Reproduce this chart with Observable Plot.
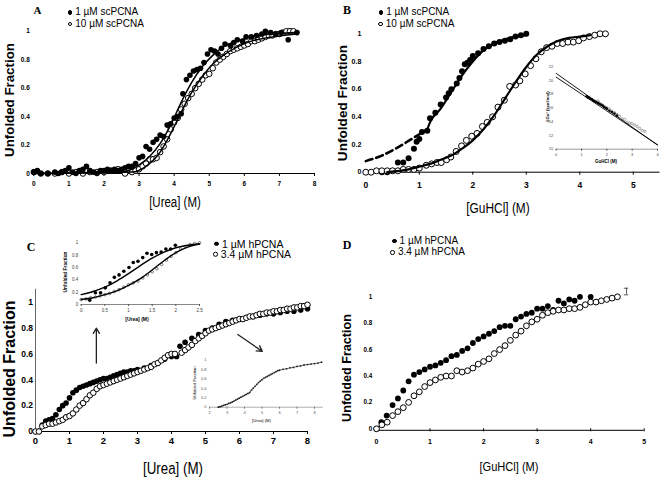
<!DOCTYPE html>
<html><head><meta charset="utf-8">
<script src="https://cdn.jsdelivr.net/npm/d3@7"></script>
<script src="https://cdn.jsdelivr.net/npm/@observablehq/plot@0.6"></script>
<style>
body{margin:0;background:#fff;}
#root{position:relative;width:662px;height:478px;overflow:hidden;background:#fff;font-family:'Liberation Sans',Arial,sans-serif;color:#000;}
.t{position:absolute;white-space:nowrap;line-height:1;}
.lg{position:absolute;white-space:nowrap;line-height:1;display:flex;align-items:center;transform:translateY(-50%);}
.mk{display:inline-block;border-radius:50%;box-sizing:border-box;}
svg{overflow:visible}
</style></head><body><div id="root"></div><script>
// ---------- Panel A : urea, scPCNA ----------
const xTicksA = [0,1,2,3,4,5,6,7,8];
const yTicksFrac = [0,0.2,0.4,0.6,0.8,1];
const a1uM = [[0.0,0.01],[0.1,0.02],[0.2,0.0],[0.4,0.0],[0.6,0.01],[0.7,0.0],[0.8,0.01],[0.9,0.02],[1.0,0.04],[1.1,0.01],[1.2,0.0],[1.3,0.02],[1.4,0.03],[1.5,0.05],[1.6,0.02],[1.7,0.01],[1.8,0.0],[1.9,0.02],[2.0,0.02],[2.1,0.03],[2.2,0.02],[2.3,0.03],[2.4,0.02],[2.5,0.03],[2.6,0.04],[2.7,0.05],[2.8,0.05],[2.9,0.07],[3.0,0.11],[3.1,0.12],[3.2,0.19],[3.3,0.17],[3.4,0.22],[3.5,0.24],[3.6,0.27],[3.7,0.26],[3.8,0.34],[3.9,0.35],[4.0,0.39],[4.1,0.4],[4.2,0.42],[4.25,0.56],[4.35,0.66],[4.45,0.69],[4.55,0.72],[4.65,0.73],[4.75,0.74],[4.85,0.78],[4.95,0.84],[5.05,0.87],[5.15,0.86],[5.25,0.84],[5.35,0.88],[5.45,0.91],[5.6,0.9],[5.7,0.92],[5.8,0.94],[5.95,0.93],[6.05,0.96],[6.2,0.96],[6.35,0.97],[6.5,0.98],[6.6,1.0],[6.75,0.99],[6.9,0.98],[7.05,0.99],[7.25,0.94],[7.5,0.99]];
const a10uM = [[0.0,0.01],[0.2,0.0],[0.4,0.0],[0.6,0.0],[0.8,0.01],[1.0,0.0],[1.2,0.01],[1.4,0.0],[1.6,0.01],[1.8,0.01],[2.0,0.01],[2.2,0.02],[2.4,0.03],[2.6,0.0],[2.8,0.01],[2.9,0.02],[3.0,0.03],[3.1,0.05],[3.2,0.07],[3.3,0.1],[3.4,0.1],[3.5,0.11],[3.6,0.15],[3.7,0.19],[3.8,0.24],[3.9,0.31],[4.0,0.36],[4.1,0.39],[4.2,0.45],[4.3,0.49],[4.4,0.53],[4.5,0.56],[4.6,0.6],[4.7,0.63],[4.8,0.66],[4.9,0.69],[5.0,0.7],[5.1,0.74],[5.2,0.78],[5.3,0.8],[5.4,0.82],[5.5,0.84],[5.6,0.86],[5.7,0.87],[5.8,0.88],[5.9,0.89],[6.0,0.9],[6.1,0.91],[6.2,0.93],[6.3,0.93],[6.4,0.94],[6.5,0.95],[6.6,0.96],[6.7,0.97],[6.8,0.97],[6.9,0.98],[7.0,0.98],[7.1,0.99],[7.2,1.0],[7.3,1.0],[7.4,1.0]];
const fitA1 = [[0,0],[2.5,0.01],[3.0,0.06],[3.3,0.12],[3.6,0.21],[3.9,0.34],[4.2,0.5],[4.5,0.64],[4.8,0.75],[5.1,0.83],[5.4,0.89],[5.8,0.93],[6.2,0.96],[6.8,0.98],[7.5,0.99]];
const fitA2 = [[0,0],[2.8,0.01],[3.2,0.05],[3.6,0.15],[3.9,0.28],[4.2,0.43],[4.5,0.57],[4.8,0.68],[5.1,0.77],[5.4,0.83],[5.8,0.89],[6.2,0.93],[6.8,0.96],[7.5,0.98]];

// ---------- Panel B : GuHCl, scPCNA ----------
const xTicksB = [0,1,2,3,4,5];
const b1uM = [[0.3,0.0],[0.4,0.0],[0.5,0.01],[0.6,0.07],[0.7,0.07],[0.8,0.1],[0.9,0.17],[0.95,0.22],[1.0,0.24],[1.05,0.29],[1.15,0.3],[1.2,0.39],[1.3,0.43],[1.4,0.49],[1.5,0.54],[1.55,0.57],[1.6,0.6],[1.7,0.64],[1.75,0.68],[1.8,0.73],[1.85,0.78],[1.9,0.79],[1.95,0.81],[2.0,0.84],[2.1,0.86],[2.2,0.89],[2.3,0.91],[2.4,0.93],[2.5,0.94],[2.6,0.95],[2.7,0.96],[2.8,0.98],[2.9,0.99],[3.0,1.0]];
const b10uM = [[0,0],[0.1,0],[0.2,0.01],[0.3,0.01],[0.4,0.01],[0.5,0.01],[0.6,0.01],[0.7,0.02],[0.8,0.02],[0.9,0.02],[1.0,0.03],[1.13,0.05],[1.23,0.06],[1.33,0.07],[1.41,0.07],[1.51,0.09],[1.59,0.11],[1.69,0.15],[1.79,0.19],[1.88,0.23],[1.98,0.26],[2.08,0.28],[2.18,0.33],[2.27,0.36],[2.37,0.4],[2.47,0.47],[2.59,0.52],[2.69,0.62],[2.8,0.63],[2.88,0.66],[2.98,0.71],[3.08,0.77],[3.18,0.82],[3.28,0.87],[3.38,0.9],[3.48,0.91],[3.58,0.93],[3.68,0.93],[3.78,0.94],[3.88,0.94],[3.98,0.95],[4.07,0.97],[4.18,0.98],[4.28,0.99],[4.38,1.0],[4.48,1.0]];
const dashB = [[0,0.08],[0.3,0.12],[0.6,0.18],[0.9,0.25],[1.15,0.31]];
const fitB1 = [[1.15,0.31],[1.2,0.36],[1.4,0.46],[1.6,0.58],[1.8,0.7],[2.0,0.8],[2.2,0.88],[2.4,0.93],[2.6,0.96],[2.8,0.98],[3.0,0.99]];
const fitB2 = [[0.4,0.0],[0.8,0.02],[1.0,0.04],[1.2,0.06],[1.4,0.09],[1.6,0.12],[1.8,0.17],[2.0,0.23],[2.2,0.31],[2.4,0.41],[2.6,0.53],[2.8,0.65],[3.0,0.76],[3.2,0.85],[3.4,0.91],[3.6,0.95],[3.8,0.97],[4.0,0.98],[4.2,0.99]];
// inset of B: ΔGu° vs GuHCl
const xTicksBi = [0,1,2,3,4];
const yTicksBi = [10,12,14,16,18,20,22];
const insetBFilled = [[1.2,17.7],[1.25,17.5],[1.3,17.5],[1.35,17.3],[1.4,17.3],[1.45,17.1],[1.5,17.0],[1.55,16.9],[1.6,16.8],[1.65,16.7],[1.7,16.6],[1.75,16.5],[1.8,16.4],[1.85,16.3],[1.9,16.1],[1.95,16.0],[2.0,15.9],[2.1,15.6],[2.2,15.4],[2.3,15.2],[2.4,14.9]];
const insetBOpen = [[1.5,17.0],[1.6,16.9],[1.65,17.0],[1.7,16.7],[1.8,16.5],[1.9,16.2],[2.0,16.0],[2.1,15.8],[2.2,15.5],[2.3,15.3],[2.4,15.0],[2.5,14.8],[2.6,14.4],[2.7,14.3],[2.8,13.9],[2.9,13.8],[3.0,13.7],[3.1,13.5],[3.2,13.3],[3.3,13.0],[3.4,12.7],[3.5,12.6]];
const insetBLine1 = [[0,21.0],[4,10.6]];
const insetBLine2 = [[0,20.45],[4,10.65]];

// ---------- Panel C : urea, hPCNA ----------
const yTicksC = [0,0.2,0.4,0.6,0.8,1];
const c1uM = [[0,0],[0.1,0],[0.2,0.05],[0.3,0.08],[0.4,0.09],[0.5,0.1],[0.6,0.13],[0.7,0.17],[0.8,0.2],[0.9,0.22],[1.0,0.26],[1.1,0.3],[1.2,0.32],[1.3,0.34],[1.4,0.35],[1.5,0.36],[1.6,0.37],[1.7,0.38],[1.8,0.39],[1.9,0.4],[2.0,0.41],[2.1,0.41],[2.2,0.42],[2.3,0.43],[2.4,0.44],[2.5,0.45],[2.6,0.46],[2.7,0.46],[2.8,0.47],[2.9,0.47],[3.0,0.48],[3.2,0.49],[3.4,0.51],[3.6,0.53],[3.8,0.56],[4.0,0.58],[4.15,0.58],[4.25,0.66],[4.4,0.69],[4.6,0.72],[4.8,0.75],[5.0,0.78],[5.2,0.8],[5.4,0.83],[5.6,0.85],[5.8,0.86],[6.0,0.87],[6.2,0.88],[6.4,0.89],[6.6,0.9],[6.8,0.91],[7.0,0.91],[7.2,0.92],[7.4,0.93],[7.6,0.93],[7.8,0.94],[8.0,0.95]];
const c34uM = [[0,0],[0.1,0],[0.2,0.04],[0.3,0.05],[0.4,0.06],[0.5,0.06],[0.6,0.07],[0.7,0.08],[0.8,0.09],[0.9,0.11],[1.0,0.12],[1.1,0.14],[1.2,0.17],[1.3,0.2],[1.4,0.22],[1.5,0.25],[1.6,0.28],[1.7,0.3],[1.8,0.33],[1.9,0.35],[2.0,0.36],[2.1,0.37],[2.2,0.38],[2.3,0.39],[2.4,0.4],[2.5,0.41],[2.6,0.42],[2.7,0.43],[2.8,0.44],[2.9,0.45],[3.0,0.46],[3.1,0.47],[3.2,0.48],[3.3,0.49],[3.4,0.5],[3.5,0.52],[3.6,0.53],[3.7,0.55],[3.8,0.57],[3.9,0.59],[4.0,0.6],[4.1,0.6],[4.3,0.61],[4.4,0.63],[4.5,0.65],[4.6,0.67],[4.7,0.7],[4.8,0.72],[4.9,0.74],[5.0,0.76],[5.1,0.78],[5.2,0.79],[5.3,0.8],[5.4,0.81],[5.5,0.82],[5.6,0.83],[5.7,0.84],[5.8,0.85],[5.9,0.86],[6.0,0.87],[6.1,0.87],[6.2,0.88],[6.3,0.89],[6.4,0.89],[6.5,0.9],[6.6,0.91],[6.7,0.91],[6.8,0.92],[6.9,0.92],[7.0,0.93],[7.1,0.93],[7.2,0.94],[7.3,0.94],[7.4,0.95],[7.5,0.95],[7.6,0.96],[7.7,0.96],[7.8,0.97],[7.9,0.97],[8.0,0.98]];
const arrowsC = [{x1:1.79,y1:0.53,x2:1.79,y2:0.8},{x1:5.95,y1:0.75,x2:6.67,y2:0.62}];
// upper inset of C (0–2.5 M urea)
const xTicksCi1 = [0,0.5,1,1.5,2,2.5];
const insC1Filled = [[0.18,0.07],[0.3,0.19],[0.41,0.19],[0.51,0.27],[0.61,0.35],[0.7,0.44],[0.8,0.48],[0.9,0.54],[1.01,0.6],[1.1,0.68],[1.2,0.7],[1.3,0.76],[1.39,0.83],[1.49,0.81],[1.59,0.84],[1.69,0.85],[1.79,0.9],[1.89,0.9],[1.99,0.96]];
const insC1Open = [[0,0.08],[0.1,0.09],[0.2,0.11],[0.3,0.12],[0.4,0.14],[0.5,0.16],[0.6,0.18],[0.7,0.21],[0.8,0.24],[0.9,0.28],[1.0,0.32],[1.1,0.35],[1.2,0.38],[1.3,0.43],[1.4,0.48],[1.5,0.53],[1.6,0.58],[1.7,0.65],[1.8,0.72],[1.9,0.78],[2.0,0.84],[2.1,0.9],[2.2,0.94],[2.3,0.97],[2.4,0.99],[2.5,1.0]];
const insC1FitFilled = [[0,0.16],[0.25,0.21],[0.5,0.28],[0.75,0.38],[1.0,0.5],[1.25,0.63],[1.5,0.75],[1.75,0.85],[2.0,0.92],[2.25,0.96],[2.5,0.98]];
const insC1FitOpen = [[0,0.08],[0.25,0.11],[0.5,0.16],[0.75,0.22],[1.0,0.31],[1.25,0.42],[1.5,0.56],[1.75,0.71],[2.0,0.84],[2.25,0.93],[2.5,0.98]];
// lower inset of C (2–8.5 M urea)
const xTicksCi2 = [2,3,4,5,6,7,8];
const insC2 = [[2.5,0],[2.6,0.01],[2.7,0.02],[2.8,0.04],[2.9,0.05],[3.0,0.06],[3.1,0.08],[3.2,0.09],[3.3,0.11],[3.4,0.13],[3.5,0.15],[3.6,0.17],[3.7,0.19],[3.8,0.21],[3.9,0.23],[4.0,0.25],[4.1,0.27],[4.2,0.29],[4.3,0.31],[4.4,0.36],[4.5,0.4],[4.6,0.44],[4.7,0.48],[4.8,0.52],[4.9,0.55],[5.0,0.58],[5.1,0.61],[5.2,0.63],[5.3,0.65],[5.4,0.67],[5.5,0.69],[5.6,0.71],[5.7,0.73],[5.8,0.75],[5.9,0.77],[6.0,0.78],[6.2,0.8],[6.4,0.81],[6.6,0.83],[6.8,0.84],[7.0,0.86],[7.2,0.87],[7.4,0.89],[7.6,0.9],[7.8,0.91],[8.0,0.92],[8.2,0.93],[8.4,0.95]];

// ---------- Panel D : GuHCl, hPCNA ----------
const xTicksD = [0,1,2,3,4,5];
const d1uM = [[0,0],[0.09,0.05],[0.19,0.1],[0.3,0.18],[0.4,0.23],[0.5,0.29],[0.6,0.36],[0.7,0.41],[0.8,0.43],[0.9,0.45],[1.0,0.47],[1.1,0.48],[1.2,0.5],[1.3,0.52],[1.4,0.55],[1.5,0.56],[1.6,0.59],[1.7,0.61],[1.8,0.65],[1.9,0.68],[2.0,0.7],[2.1,0.72],[2.2,0.74],[2.3,0.77],[2.4,0.78],[2.5,0.78],[2.6,0.83],[2.7,0.85],[2.8,0.87],[2.9,0.88],[3.0,0.91],[3.1,0.91],[3.2,0.93],[3.3,0.9],[3.4,0.97],[3.5,0.95],[3.6,0.98],[3.7,0.97],[3.8,1.0],[4.0,1.0]];
const d34uM = [[0,0],[0.1,0.03],[0.2,0.05],[0.3,0.1],[0.4,0.13],[0.5,0.16],[0.6,0.2],[0.7,0.25],[0.8,0.28],[0.9,0.32],[1.0,0.35],[1.1,0.37],[1.2,0.39],[1.3,0.4],[1.4,0.4],[1.5,0.44],[1.6,0.43],[1.7,0.44],[1.8,0.46],[1.9,0.49],[2.0,0.51],[2.1,0.53],[2.2,0.57],[2.3,0.6],[2.4,0.63],[2.5,0.67],[2.6,0.71],[2.7,0.74],[2.8,0.78],[2.9,0.81],[3.0,0.83],[3.1,0.86],[3.2,0.88],[3.3,0.89],[3.4,0.9],[3.5,0.9],[3.6,0.91],[3.7,0.91],[3.8,0.92],[3.9,0.94],[4.0,0.96],[4.1,0.96],[4.2,0.97],[4.3,0.98],[4.4,0.99],[4.5,1.0]];
const errD = {x:4.67, lo:1.015, hi:1.065, cap:0.04};

// ---------- helpers ----------
const root = document.getElementById("root");
const SANS = "'Liberation Sans',Arial,sans-serif";
const SERIF = "'Liberation Serif','Times New Roman',serif";
const fmt = d => String(d);

function place(o) {
  const svg = Plot.plot({
    width: o.w, height: o.h,
    marginLeft: o.ml, marginRight: o.mr, marginTop: o.mt, marginBottom: o.mb,
    x: {domain: o.xd, label: null},
    y: {domain: o.yd, label: null},
    style: {fontFamily: SANS, background: "transparent", overflow: "visible", color: "black"},
    marks: o.marks
  });
  svg.style.position = "absolute";
  svg.style.left = o.left + "px";
  svg.style.top = o.top + "px";
  root.appendChild(svg);
}
function txt(s, x, y, o = {}) {
  const d = document.createElement("div");
  d.className = "t";
  d.textContent = s;
  d.style.left = x + "px"; d.style.top = y + "px";
  d.style.fontSize = (o.size || 10) + "px";
  d.style.fontWeight = o.weight || "normal";
  d.style.fontFamily = o.family || SANS;
  d.style.transform = "translate(-50%,-50%)" + (o.rot ? " rotate(-90deg)" : "") + (o.narrow ? " scaleX(0.82)" : "");
  root.appendChild(d);
}
function legend(x, y, label, filled, size, ms) {
  const d = document.createElement("div");
  d.className = "lg";
  d.style.left = (x - ms / 2) + "px"; d.style.top = y + "px";
  d.style.fontSize = size + "px"; d.style.fontFamily = SANS;
  const m = document.createElement("span");
  m.className = "mk";
  m.style.width = ms + "px"; m.style.height = ms + "px";
  m.style.background = filled ? "#000" : "#fff";
  m.style.border = "1px solid #000";
  m.style.marginRight = "3px";
  d.appendChild(m);
  d.appendChild(document.createTextNode(label));
  root.appendChild(d);
}
const axX = (t, fs, pad, ts = 3) => Plot.axisX(t, {tickSize: ts, tickPadding: pad, fontSize: fs, fontWeight: "bold", tickFormat: fmt});
const axY = (t, fs, pad) => Plot.axisY(t, {tickSize: 0, tickPadding: pad, fontSize: fs, fontWeight: "bold", tickFormat: fmt});

// ---------- Panel A ----------
place({left: 0, top: 0, w: 331, h: 215, ml: 33.3, mr: 17, mt: 30.7, mb: 42, xd: [0, 8], yd: [0, 1],
  marks: [
    Plot.ruleY([0], {strokeWidth: 1}),
    axX(xTicksA, 6.5, 4.5), axY(yTicksFrac, 6.5, 4),
    Plot.dot(a10uM, {r: 2.8, fill: "white", stroke: "black", strokeWidth: 1}),
    Plot.dot(a1uM, {r: 2.8, fill: "black"}),
    Plot.line(fitA1, {strokeWidth: 1.5, curve: "monotone-x"}),
    Plot.line(fitA2, {strokeWidth: 1.5, curve: "monotone-x"})
  ]});
txt("A", 37.5, 9.5, {size: 11, weight: "bold", family: SERIF});
legend(70, 12.3, "1 µM scPCNA", true, 10, 4.5);
legend(70, 24, "10 µM scPCNA", false, 10, 4.5);
txt("Unfolded Fraction", 9.5, 100, {size: 13.3, weight: "bold", rot: true});
txt("[Urea] (M)", 175, 202, {size: 14, narrow: true});

// ---------- Panel B ----------
place({left: 331, top: 0, w: 331, h: 215, ml: 34.3, mr: 2.5, mt: 33.3, mb: 43.3, xd: [0, 5.5], yd: [0, 1],
  marks: [
    Plot.ruleY([0], {strokeWidth: 1}),
    axX(xTicksB, 8.5, 6.5), axY(yTicksFrac, 7, 4.5),
    Plot.dot(b1uM, {r: 3, fill: "black"}),
    Plot.dot(b10uM, {r: 3, fill: "white", stroke: "black", strokeWidth: 1}),
    Plot.line(dashB, {strokeWidth: 2.6, strokeDasharray: "7,4", curve: "monotone-x"}),
    Plot.line(fitB1, {strokeWidth: 2.2, curve: "monotone-x"}),
    Plot.line(fitB2, {strokeWidth: 2.2, curve: "monotone-x"})
  ]});
txt("B", 347, 9.5, {size: 12, weight: "bold", family: SERIF});
legend(381, 12.3, "1 µM scPCNA", true, 10, 4.5);
legend(380.5, 24, "10 µM scPCNA", false, 10, 4.5);
txt("Unfolded Fraction", 343, 103, {size: 13.6, weight: "bold", rot: true});
txt("[GuHCl] (M)", 498, 208, {size: 14.5, narrow: true});
// inset of B
place({left: 540, top: 55, w: 122, h: 110, ml: 15.7, mr: 5, mt: 11, mb: 16.3, xd: [0, 4], yd: [10, 22],
  marks: [
    Plot.ruleY([10], {strokeWidth: 0.6, stroke: "#555"}),
    Plot.axisX(xTicksBi, {tickSize: 2, tickPadding: 2, fontSize: 4, tickFormat: fmt, stroke: "#555", fill: "#444"}),
    Plot.axisY(yTicksBi, {tickSize: 0, tickPadding: 3, fontSize: 4, tickFormat: fmt, fill: "#444"}),
    Plot.dot(insetBOpen, {r: 1.2, fill: "white", stroke: "#555", strokeWidth: 0.5}),
    Plot.dot(insetBFilled, {r: 1.2, fill: "black"}),
    Plot.line(insetBLine1, {strokeWidth: 0.9}),
    Plot.line(insetBLine2, {strokeWidth: 0.9})
  ]});
txt("ΔGu° (kcal/mol)", 547.5, 107, {size: 4.2, weight: "bold", rot: true});
txt("GuHCl (M)", 606, 161.5, {size: 4.5, weight: "bold"});

// ---------- Panel C ----------
place({left: 0, top: 239, w: 331, h: 239, ml: 35, mr: 24, mt: 49.8, mb: 47, xd: [0, 8], yd: [0, 1.1],
  marks: [
    Plot.ruleY([0], {strokeWidth: 1}),
    Plot.ruleX([0], {strokeWidth: 1, stroke: "#666"}),
    axX(xTicksA, 9.5, 2.5), axY(yTicksC, 8.5, 2.5),
    Plot.dot(c1uM, {r: 2.8, fill: "black"}),
    Plot.dot(c34uM, {r: 2.8, fill: "white", stroke: "black", strokeWidth: 1}),
    Plot.arrow(arrowsC, {x1: "x1", y1: "y1", x2: "x2", y2: "y2", strokeWidth: 1.3, headLength: 7, stroke: "#222"})
  ]});
txt("C", 31, 246.5, {size: 12, weight: "bold", family: SERIF});
legend(216.7, 243.7, "1 µM hPCNA", true, 10.5, 4.5);
legend(215.5, 254.3, "3.4 µM hPCNA", false, 10.5, 4.5);
txt("Unfolded Fraction", 10, 369, {size: 16, weight: "bold", rot: true});
txt("[Urea] (M)", 173, 468, {size: 16.3, narrow: true});
// upper inset of C
place({left: 55, top: 238, w: 150, h: 85, ml: 25.7, mr: 6, mt: 4.3, mb: 19, xd: [0, 2.5], yd: [0, 1],
  marks: [
    Plot.ruleY([0], {strokeWidth: 0.7, stroke: "#555"}),
    Plot.axisX(xTicksCi1, {tickSize: 2, tickPadding: 2.5, fontSize: 4.5, tickFormat: fmt, stroke: "#555", fill: "#444"}),
    Plot.axisY(yTicksFrac, {tickSize: 0, tickPadding: 3, fontSize: 4.5, tickFormat: fmt, fill: "#444"}),
    Plot.dot(insC1Open, {r: 1.3, fill: "white", stroke: "#333", strokeWidth: 0.6}),
    Plot.dot(insC1Filled, {r: 1.8, fill: "black"}),
    Plot.line(insC1FitFilled, {strokeWidth: 1.4, curve: "monotone-x"}),
    Plot.line(insC1FitOpen, {strokeWidth: 1.4, curve: "monotone-x"})
  ]});
txt("Unfolded Fraction", 65.5, 272, {size: 4.8, weight: "bold", rot: true});
txt("[Urea] (M)", 137, 318.7, {size: 5, weight: "bold"});
// lower inset of C
place({left: 185, top: 350, w: 146, h: 75, ml: 24, mr: 8.25, mt: 9.3, mb: 18.3, xd: [2, 8.5], yd: [0, 1],
  marks: [
    Plot.ruleY([0], {strokeWidth: 0.6, stroke: "#777"}),
    Plot.axisX(xTicksCi2, {tickSize: 2, tickPadding: 2, fontSize: 4, tickFormat: fmt, stroke: "#777", fill: "#555"}),
    Plot.axisY(yTicksFrac, {tickSize: 0, tickPadding: 3, fontSize: 4, tickFormat: fmt, fill: "#555"}),
    Plot.line(insC2, {strokeWidth: 0.8, stroke: "#444"}),
    Plot.dot(insC2, {r: 0.9, fill: "#222"})
  ]});
txt("Unfolded Fraction", 195, 383, {size: 4.2, rot: true});
txt("[Urea] (M)", 261.5, 420.5, {size: 4.2});

// ---------- Panel D ----------
place({left: 331, top: 239, w: 331, h: 239, ml: 45, mr: 18.3, mt: 57.3, mb: 49.7, xd: [0, 5], yd: [0, 1],
  marks: [
    Plot.ruleY([0], {strokeWidth: 1, dy: 1.5}),
    axX(xTicksD, 7, 7), axY(yTicksFrac, 6.3, 4.3),
    Plot.dot(d1uM, {r: 2.9, fill: "black"}),
    Plot.dot(d34uM, {r: 2.9, fill: "white", stroke: "black", strokeWidth: 1}),
    Plot.ruleX([errD], {x: "x", y1: "lo", y2: "hi", strokeWidth: 0.8, stroke: "#333"}),
    Plot.ruleY([errD.lo, errD.hi], {x1: errD.x - errD.cap, x2: errD.x + errD.cap, strokeWidth: 0.8, stroke: "#333"})
  ]});
txt("D", 347, 245, {size: 12, weight: "bold", family: SERIF});
legend(394.3, 241, "1 µM hPCNA", true, 10, 4.5);
legend(392.7, 252.3, "3.4 µM hPCNA", false, 10, 4.5);
txt("Unfolded Fraction", 347, 368, {size: 12.6, weight: "bold", rot: true});
txt("[GuHCl] (M)", 509, 466.7, {size: 13.5, narrow: true});
</script></body></html>
